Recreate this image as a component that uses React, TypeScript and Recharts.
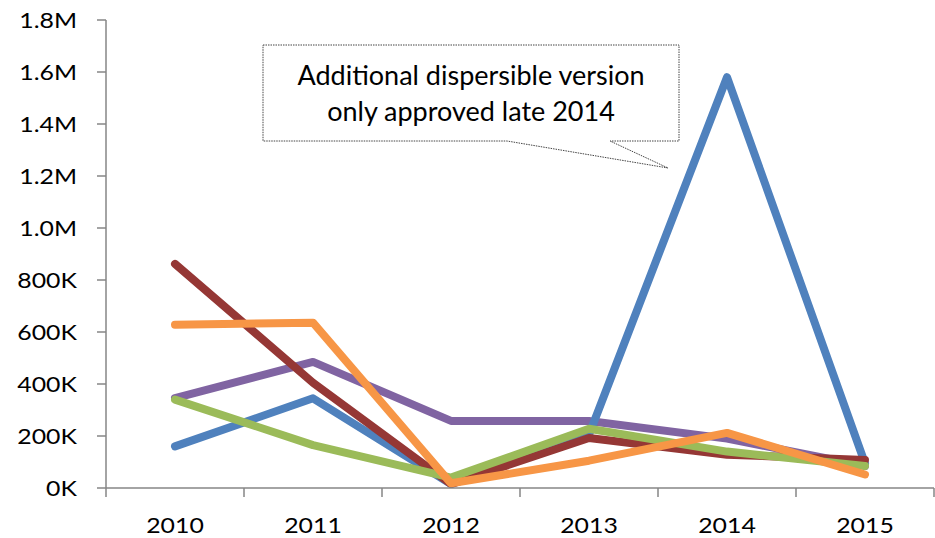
import { CartesianGrid, Customized, Line, LineChart, XAxis, YAxis } from 'recharts';

const years = ['2010', '2011', '2012', '2013', '2014', '2015'];

const blue = [160000, 345000, 15000, 205000, 1580000, 95000];
const red = [862000, 405000, 15000, 192000, 128000, 108000];
const purple = [346000, 485000, 258000, 258000, 190000, 85000];
const green = [340000, 165000, 40000, 228000, 140000, 85000];
const orange = [628000, 636000, 18000, 105000, 212000, 52000];

const yTicks = [0, 200000, 400000, 600000, 800000, 1000000, 1200000, 1400000, 1600000, 1800000];
const xTicks = [0, 0.5, 1, 1.5, 2, 2.5, 3, 3.5, 4, 4.5, 5, 5.5, 6];

const calloutLines = ['Additional dispersible version', 'only approved late 2014'];

const data = years.map((year, i) => ({
  x: i + 0.5,
  year,
  blue: blue[i],
  red: red[i],
  purple: purple[i],
  green: green[i],
  orange: orange[i],
}));

const FONT = 'Lato, "Open Sans", sans-serif';
const AXIS = '#868686';

const formatY = (v: number) => (v >= 1000000 ? `${(v / 1000000).toFixed(1)}M` : `${v / 1000}K`);

const YTick = (props: any) => {
  const { x, y, payload } = props;
  return (
    <text
      transform={`translate(${x},${y}) scale(1.13,1)`}
      textAnchor="end"
      dy={7.5}
      fontFamily={FONT}
      fontSize={22}
      fill="#000"
    >
      {formatY(payload.value)}
    </text>
  );
};

const XTick = (props: any) => {
  const { x, y, payload } = props;
  const v = payload.value as number;
  if (Number.isInteger(v)) {
    return <line x1={x} x2={x} y1={y} y2={y + 9} stroke={AXIS} strokeWidth={1.5} />;
  }
  return (
    <text
      transform={`translate(${x},${y + 45}) scale(1.13,1)`}
      textAnchor="middle"
      fontFamily={FONT}
      fontSize={22}
      fill="#000"
    >
      {years[Math.floor(v)]}
    </text>
  );
};

const Callout = () => (
  <g>
    <path
      d="M263,45 H679 V141 H610 L668,168 L507,141 H263 Z"
      fill="#fff"
      stroke="#444"
      strokeWidth={1}
      strokeDasharray="1.5 1"
    />
    {calloutLines.map((t, i) => (
      <text
        key={t}
        x={471}
        y={85 + i * 36}
        textAnchor="middle"
        fontFamily={FONT}
        fontSize={27}
        fill="#000"
      >
        {t}
      </text>
    ))}
  </g>
);

const series = [
  { key: 'purple', color: '#8064A2' },
  { key: 'blue', color: '#4F81BD' },
  { key: 'red', color: '#953735' },
  { key: 'green', color: '#9BBB59' },
  { key: 'orange', color: '#F79646' },
];

export default function App() {
  return (
    <div style={{ position: 'absolute', left: 0, top: 0, background: '#fff' }}>
      <LineChart width={935} height={538} data={data} margin={{ top: 20, right: 1, bottom: 0, left: 0 }}>
        <CartesianGrid vertical={false} horizontal={false} />
        <XAxis
          dataKey="x"
          type="number"
          domain={[0, 6]}
          ticks={xTicks}
          interval={0}
          height={50}
          tickSize={0}
          tickMargin={0}
          tickLine={false}
          axisLine={{ stroke: AXIS, strokeWidth: 1.5 }}
          tick={<XTick />}
        />
        <YAxis
          type="number"
          domain={[0, 1800000]}
          ticks={yTicks}
          interval={0}
          width={106}
          tickSize={9}
          tickMargin={20}
          tickLine={{ stroke: AXIS, strokeWidth: 1.5 }}
          axisLine={{ stroke: AXIS, strokeWidth: 1.5 }}
          tick={<YTick />}
        />
        {series.map((s) => (
          <Line
            key={s.key}
            type="linear"
            dataKey={s.key}
            stroke={s.color}
            strokeWidth={8}
            strokeLinecap="round"
            strokeLinejoin="round"
            dot={false}
            activeDot={false}
            isAnimationActive={false}
          />
        ))}
        <Customized component={Callout} />
      </LineChart>
    </div>
  );
}
